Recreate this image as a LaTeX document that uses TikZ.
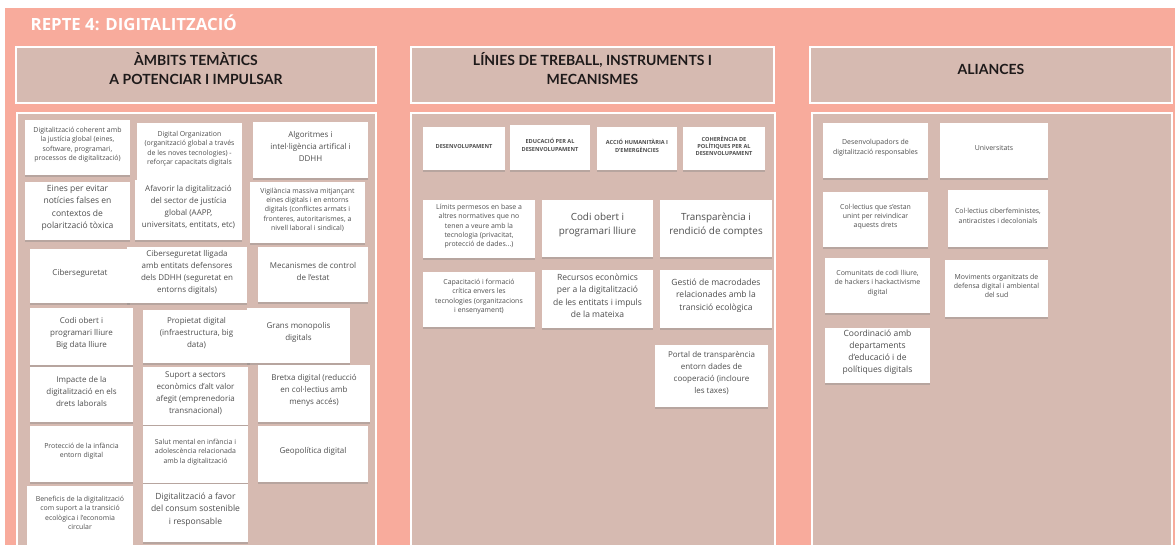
\documentclass[tikz,border=0pt]{standalone}
\usepackage{fontspec}
\setmainfont{Open Sans}
\newfontfamily\headfont{Lato}
\usepackage{xcolor}
\usetikzlibrary{fit,shadows}

\definecolor{bgpink}{HTML}{F8AB9C}
\definecolor{panelrose}{HTML}{D6BAB1}
\definecolor{notetext}{HTML}{4E4E4E}
\definecolor{headtext}{HTML}{1E1A1A}

\tikzset{
  panel/.style={fill=panelrose, draw=white, line width=1.5pt, inner sep=0pt},
  headbox/.style={fill=panelrose, draw=white, line width=1.5pt, inner sep=0pt, align=center,
    text=headtext, font=\headfont\bfseries\fontsize{10.5}{14}\selectfont},
  note/.style={fill=white, inner sep=0pt, align=center, text=notetext,
    drop shadow={shadow xshift=0pt, shadow yshift=-1.6pt, opacity=0.35}},
  notexs/.style={note, font=\bfseries\fontsize{4.2}{5.6}\selectfont},
  notesm/.style={note, font=\fontsize{5.2}{7}\selectfont},
  notemd/.style={note, font=\fontsize{6}{9}\selectfont},
  notelg/.style={note, font=\fontsize{6.4}{9.2}\selectfont},
  notexl/.style={note, font=\fontsize{7.4}{10.5}\selectfont},
}

\begin{document}
\begin{tikzpicture}[x=0.75pt, y=-0.75pt]
  \useasboundingbox (0,0) rectangle (1175,545);
  \fill[white] (0,0) rectangle (1175,545);
  \fill[bgpink] (5,8) rectangle (1175,545);

  \node[anchor=west, text=white, font=\bfseries\fontsize{12.6}{15}\selectfont] (title) at (26,23) {REPTE 4: DIGITALITZACIÓ};

  % headers
  \node[headbox, fit={(16,47) (376,103)}] (hambits) {ÀMBITS TEMÀTICS\\A POTENCIAR I IMPULSAR};
  \node[headbox, fit={(411,47) (774,103)}] (hlinies) {LÍNIES DE TREBALL, INSTRUMENTS I\\MECANISMES};
  \node[headbox, fit={(810,47) (1172,103)}] (haliances) {ALIANCES};

  % panels
  \node[panel, fit={(17,113) (376,552)}] (pambits) {};
  \node[panel, fit={(411,113) (775,552)}] (plinies) {};
  \node[panel, fit={(812,113) (1172,552)}] (paliances) {};

  % ambits tematics
  \node[notesm, fit={(25,120) (130,175)}] (digcoh) {Digitalització coherent amb\\la justícia global (eines,\\software, programari,\\processos de digitalització)};
  \node[notesm, fit={(137,123) (242,180)}] (digorg) {Digital Organization\\(organització global a través\\de les noves tecnologies) -\\reforçar capacitats digitals};
  \node[notemd, fit={(253,122) (368,178)}] (algor) {Algoritmes i\\intel·ligència artifical i\\DDHH};
  \node[notelg, fit={(25,182) (130,240)}] (eines) {Eines per evitar\\notícies falses en\\contextos de\\polarització tòxica};
  \node[notemd, fit={(135,180) (242,240)}] (afavorir) {Afavorir la digitalització\\del sector de justícia\\global (AAPP,\\universitats, entitats, etc)};
  \node[notesm, fit={(250,182) (365,243)}] (vigil) {Vigilància massiva mitjançant\\eines digitals i en entorns\\digitals (conflictes armats i\\fronteres, autoritarismes, a\\nivell laboral i sindical)};
  \node[notemd, fit={(30,249) (130,303)}] (ciber) {Ciberseguretat};
  \node[notemd, fit={(127,247) (247,303)}] (ciberddhh) {Ciberseguretat lligada\\amb entitats defensores\\dels DDHH (seguretat en\\entorns digitals)};
  \node[notemd, fit={(258,247) (368,302)}] (mecan) {Mecanismes de control\\de l'estat};
  \node[notemd, fit={(30,308) (133,365)}] (codi) {Codi obert i\\programari lliure\\Big data lliure};
  \node[notemd, fit={(143,310) (250,363)}] (propietat) {Propietat digital\\(infraestructura, big\\data)};
  \node[notemd, fit={(247,308) (350,363)}] (monopolis) {Grans monopolis\\digitals};
  \node[notemd, fit={(30,367) (133,422)}] (impacte) {Impacte de la\\digitalització en els\\drets laborals};
  \node[notemd, fit={(143,367) (248,425)}] (suport) {Suport a sectors\\econòmics d'alt valor\\afegit (emprenedoria\\transnacional)};
  \node[notemd, fit={(258,365) (370,422)}] (bretxa) {Bretxa digital (reducció\\en col·lectius amb\\menys accés)};
  \node[notesm, fit={(30,426) (133,482)}] (infancia) {Protecció de la infància\\entorn digital};
  \node[notesm, fit={(143,426) (248,483)}] (salut) {Salut mental en infància i\\adolescència relacionada\\amb la digitalització};
  \node[notemd, fit={(258,426) (368,482)}] (geopol) {Geopolítica digital};
  \node[notesm, fit={(27,486) (133,545)}] (beneficis) {Beneficis de la digitalització\\com suport a la transició\\ecològica i l'economia\\circular};
  \node[notelg, fit={(143,484) (248,542)}] (consum) {Digitalització a favor\\del consum sostenible\\i responsable};

  % linies de treball
  \node[notexs, fit={(423,127) (505,170)}] (desenv) {DESENVOLUPAMENT};
  \node[notexs, fit={(510,125) (590,170)}] (educacio) {EDUCACIÓ PER AL\\DESENVOLUPAMENT};
  \node[notexs, fit={(597,127) (677,170)}] (accio) {ACCIÓ HUMANITÀRIA I\\D'EMERGÈNCIES};
  \node[notexs, fit={(683,127) (765,170)}] (coherencia) {COHERÈNCIA DE\\POLÍTIQUES PER AL\\DESENVOLUPAMENT};
  \node[notesm, fit={(423,200) (535,258)}] (limits) {Límits permesos en base a\\altres normatives que no\\tenen a veure amb la\\tecnologia (privacitat,\\protecció de dades...)};
  \node[notexl, fit={(542,200) (653,257)}] (codiobert) {Codi obert i\\programari lliure};
  \node[notexl, fit={(660,200) (772,257)}] (transp) {Transparència i\\rendició de comptes};
  \node[notesm, fit={(423,272) (535,327)}] (capacit) {Capacitació i formació\\crítica envers les\\tecnologies (organitzacions\\i ensenyament)};
  \node[notelg, fit={(542,270) (653,328)}] (recursos) {Recursos econòmics\\per a la digitalització\\de les entitats i impuls\\de la mateixa};
  \node[notelg, fit={(660,270) (772,328)}] (macro) {Gestió de macrodades\\relacionades amb la\\transició ecològica};
  \node[notemd, fit={(655,345) (768,407)}] (portal) {Portal de transparència\\entorn dades de\\cooperació (incloure\\les taxes)};

  % aliances
  \node[notesm, fit={(823,123) (928,178)}] (desenvolup) {Desenvolupadors de\\digitalització responsables};
  \node[notesm, fit={(940,123) (1048,178)}] (univ) {Universitats};
  \node[notesm, fit={(823,192) (928,247)}] (unint) {Col·lectius que s'estan\\unint per reivindicar\\aquests drets};
  \node[notesm, fit={(948,190) (1048,247)}] (ciberfem) {Col·lectius ciberfeministes,\\antiracistes i decolonials};
  \node[notesm, fit={(825,258) (930,313)}] (comunitats) {Comunitats de codi lliure,\\de hackers i hackactivisme\\digital};
  \node[notesm, fit={(945,260) (1048,317)}] (moviments) {Moviments organitzats de\\defensa digital i ambiental\\del sud};
  \node[notelg, fit={(825,328) (930,383)}] (coordinacio) {Coordinació amb\\departaments\\d'educació i de\\polítiques digitals};
\end{tikzpicture}
\end{document}
